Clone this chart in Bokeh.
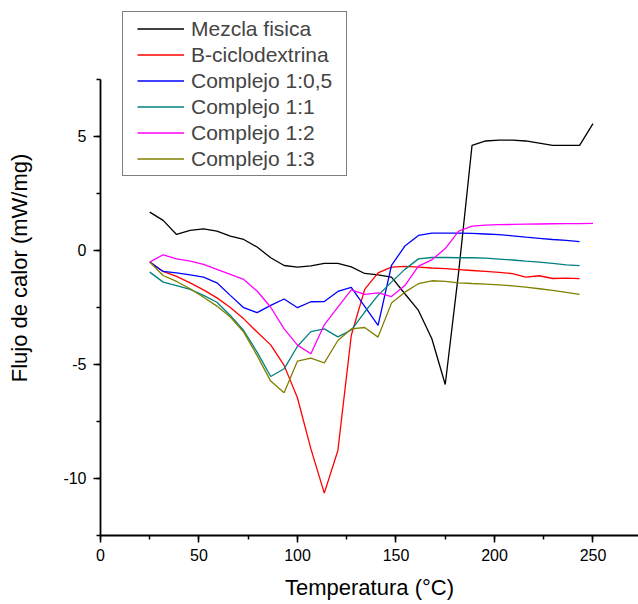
from bokeh.plotting import figure
from bokeh.models import Legend, LegendItem, SingleIntervalTicker, Range1d, PrintfTickFormatter
from bokeh.embed import file_html
from bokeh.resources import INLINE

# Temperatura (°C)
temperatura = [25.0, 31.8, 38.6, 45.5, 52.3, 59.1, 65.9, 72.7, 79.5, 86.4,
               93.2, 100.0, 106.8, 113.6, 120.5, 127.3, 134.1, 140.9, 147.7, 154.5,
               161.4, 168.2, 175.0, 181.8, 188.6, 195.5, 202.3, 209.1, 215.9, 222.7,
               229.5, 236.4, 243.2, 250.0]

# Flujo de calor (mW/mg)
mezcla_fisica = [1.68, 1.32, 0.70, 0.88, 0.95, 0.85, 0.63, 0.48, 0.15, -0.32,
                 -0.66, -0.73, -0.68, -0.57, -0.57, -0.72, -1.01, -1.07, -1.17, -1.90,
                 -2.63, -3.87, -5.88, -0.95, 4.61, 4.80, 4.84, 4.84, 4.80, 4.71,
                 4.61, 4.61, 4.61, 5.56]
b_ciclodextrina = [-0.51, -0.92, -1.14, -1.42, -1.73, -2.08, -2.50, -3.00, -3.58, -4.14,
                   -5.04, -6.47, -8.70, -10.64, -8.77, -3.73, -1.71, -0.98, -0.73, -0.70,
                   -0.73, -0.77, -0.80, -0.84, -0.88, -0.92, -0.96, -1.02, -1.17, -1.11,
                   -1.23, -1.21, -1.24]
complejo_1_05 = [-0.51, -0.92, -0.98, -1.07, -1.17, -1.42, -1.97, -2.51, -2.73, -2.41,
                 -2.13, -2.51, -2.25, -2.24, -1.80, -1.62, -2.45, -3.29, -0.66, 0.19,
                 0.66, 0.76, 0.76, 0.76, 0.75, 0.72, 0.69, 0.64, 0.58, 0.53,
                 0.48, 0.44, 0.39]
complejo_1_1 = [-0.95, -1.39, -1.54, -1.71, -1.97, -2.27, -2.85, -3.51, -4.46, -5.53,
                -5.19, -4.20, -3.56, -3.44, -3.79, -3.49, -2.70, -1.97, -1.39, -0.83,
                -0.37, -0.31, -0.31, -0.32, -0.32, -0.34, -0.38, -0.42, -0.47, -0.51,
                -0.57, -0.63, -0.67]
complejo_1_2 = [-0.51, -0.19, -0.37, -0.47, -0.61, -0.83, -1.05, -1.27, -1.78, -2.49,
                -3.44, -4.15, -4.53, -3.26, -2.49, -1.73, -1.93, -1.86, -2.02, -1.54,
                -0.69, -0.41, 0.08, 0.85, 1.07, 1.11, 1.13, 1.14, 1.15, 1.16,
                1.17, 1.18, 1.18, 1.19]
complejo_1_3 = [-0.51, -1.10, -1.36, -1.68, -2.05, -2.44, -2.92, -3.58, -4.61, -5.73,
                -6.24, -4.85, -4.72, -4.93, -3.95, -3.44, -3.38, -3.80, -2.31, -1.83,
                -1.46, -1.33, -1.36, -1.42, -1.45, -1.48, -1.51, -1.55, -1.61, -1.68,
                -1.75, -1.84, -1.93]

series_names = ["Mezcla fisica", "B-ciclodextrina", "Complejo 1:0,5",
                "Complejo 1:1", "Complejo 1:2", "Complejo 1:3"]
series_values = [mezcla_fisica, b_ciclodextrina, complejo_1_05,
                 complejo_1_1, complejo_1_2, complejo_1_3]
series_colors = ["#000000", "#FF0000", "#0000FF", "#008080", "#FF00FF", "#808000"]

FONT = "Liberation Sans"

p = figure(width=638, height=604, x_range=Range1d(0, 273.1), y_range=Range1d(-12.5, 10.96),
           output_backend="svg", toolbar_location=None,
           min_border_left=100, min_border_right=0, min_border_top=0, min_border_bottom=69)
p.outline_line_color = None
p.xgrid.visible = False
p.ygrid.visible = False
p.background_fill_color = "white"
p.border_fill_color = "white"

items = []
for name, vals, col in zip(series_names, series_values, series_colors):
    r = p.line(temperatura[:len(vals)], vals, line_color=col, line_width=1.3)
    items.append(LegendItem(label=name, renderers=[r]))

for ax in (p.xaxis[0], p.yaxis[0]):
    ax.axis_line_width = 1.8
    ax.major_tick_line_width = 1.5
    ax.minor_tick_line_width = 1.5
    ax.major_tick_out = 7
    ax.major_tick_in = 0
    ax.minor_tick_out = 4
    ax.minor_tick_in = 0
    ax.major_label_text_font = FONT
    ax.major_label_text_font_size = "16px"
    ax.major_label_text_color = "black"
    ax.axis_label_text_font = FONT
    ax.axis_label_text_font_size = "22px"
    ax.axis_label_text_font_style = "normal"
    ax.axis_label_text_color = "black"
    ax.formatter = PrintfTickFormatter(format="%d")

p.xaxis.ticker = SingleIntervalTicker(interval=50, num_minor_ticks=2)
p.yaxis.ticker = SingleIntervalTicker(interval=5, num_minor_ticks=2)
p.yaxis.bounds = (-12.5, 7.5)
p.xaxis.axis_label = "Temperatura (°C)"
p.yaxis.axis_label = "Flujo de calor (mW/mg)"
p.xaxis.major_label_standoff = 6
p.yaxis.major_label_standoff = 7
p.xaxis.axis_label_standoff = 11
p.yaxis.axis_label_standoff = 28

legend = Legend(items=items, location=(22, 359))
legend.border_line_color = "black"
legend.border_line_width = 1.3
legend.background_fill_color = "white"
legend.background_fill_alpha = 1.0
legend.label_text_font = FONT
legend.label_text_font_size = "21px"
legend.glyph_width = 47
legend.glyph_height = 25
legend.label_height = 25
legend.label_standoff = 7
legend.spacing = 1
legend.margin = 0
try:
    legend.padding = (14, 4)
except Exception:
    legend.padding = 6
p.add_layout(legend)

open("out.html", "w").write(file_html(p, INLINE))
